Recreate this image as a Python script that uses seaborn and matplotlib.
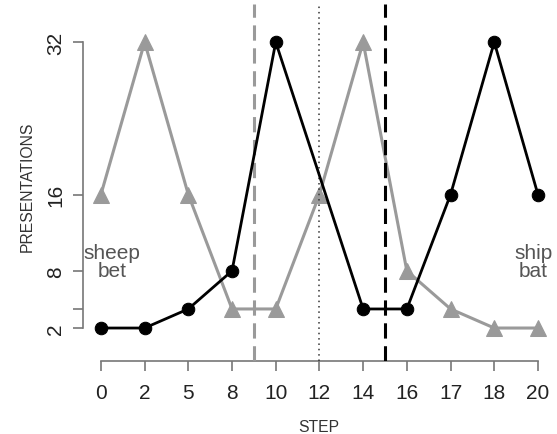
import numpy as np
import pandas as pd
import matplotlib
matplotlib.use("Agg")
import matplotlib.pyplot as plt
import seaborn as sns

# step labels (plotted at equal spacing)
steps = ["0", "2", "5", "8", "10", "12", "14", "16", "17", "18", "20"]
# presentations per step, black circles (no point at step 12)
black_vals = [2, 2, 4, 8, 32, np.nan, 4, 4, 16, 32, 16]
# presentations per step, gray triangles
gray_vals = [16, 32, 16, 4, 4, 16, 32, 8, 4, 2, 2]
y_ticks = [2, 4, 8, 16, 32]
y_labels = ["2", "", "8", "16", "32"]

sns.set_style("ticks")
plt.rcParams['font.family'] = ['Liberation Sans', 'DejaVu Sans']

df = pd.DataFrame({
    'idx': np.arange(len(steps)),
    'black': black_vals,
    'gray': gray_vals,
})

fig = plt.figure(figsize=(5.57, 4.35), dpi=100)
ax = fig.add_axes([83 / 557, 1 - 362 / 435, (555 - 83) / 557, (362 - 5) / 435])

gray_c = '#9a9a9a'
sns.lineplot(data=df, x='idx', y='gray', ax=ax, color=gray_c, lw=2.2,
             marker='^', markersize=12, markeredgecolor=gray_c, zorder=2)

# step markers
ax.axvline(3.5, color=gray_c, lw=2.2, ls=(0, (5, 2.5)), zorder=3)
ax.axvline(5, color='#333333', lw=1.1, ls=(0, (1, 2.5)), zorder=3)
ax.axvline(6.5, color='black', lw=2.2, ls=(0, (5, 2.5)), zorder=3)

bdf = df.dropna(subset=['black'])
sns.lineplot(data=bdf, x='idx', y='black', ax=ax, color='black', lw=2.0,
             marker='o', markersize=9, markeredgecolor='black', zorder=4)

ax.set_xlim(-0.41, 10.39)
ax.set_ylim(-1.46, 36.0)

ax.set_xticks(range(len(steps)))
ax.set_xticklabels(steps)
ax.set_yticks(y_ticks)
ax.set_yticklabels(y_labels, rotation=90, va='center')

axis_c = '#777777'
for s in ['top', 'right']:
    ax.spines[s].set_visible(False)
ax.spines['left'].set_bounds(2, 32)
ax.spines['bottom'].set_bounds(0, 10)
for s in ['left', 'bottom']:
    ax.spines[s].set_color(axis_c)
    ax.spines[s].set_linewidth(1.2)
ax.tick_params(axis='both', length=7, width=1.2, color=axis_c,
               labelsize=15, labelcolor='#222222')
ax.tick_params(axis='x', pad=9)
ax.tick_params(axis='y', pad=6)

ax.set_xlabel('')
ax.set_ylabel('')
fig.text(319 / 557, 1 - 428 / 435, 'STEP', ha='center', va='center',
         fontsize=11.3, color='#333333')
fig.text(27 / 557, 1 - 187 / 435, 'PRESENTATIONS', ha='center', va='center',
         rotation=90, fontsize=11.3, color='#333333')

ax.text(0.25, 9.0, 'sheep\nbet', ha='center', va='center', fontsize=15,
        color='#555555', linespacing=0.95)
ax.text(9.89, 9.0, 'ship\nbat', ha='center', va='center', fontsize=15,
        color='#555555', linespacing=0.95)

fig.savefig('out.png', dpi=100)
